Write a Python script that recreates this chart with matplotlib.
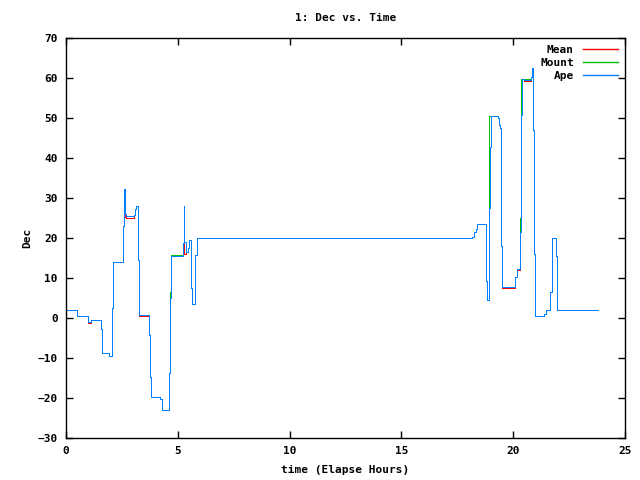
import matplotlib
matplotlib.use('Agg')
import matplotlib.pyplot as plt
import numpy as np

# Время (часы) и склонение для трёх рядов
hours = [0, 0.48, 1.0, 1.12, 1.55, 1.6, 1.62, 1.94, 2.07, 2.1, 2.56, 2.61, 2.64, 2.66,
         2.7, 3.05, 3.09, 3.12, 3.24, 3.26, 3.73, 3.76, 3.8, 4.2, 4.28, 4.62, 4.64,
         4.68, 5.22, 5.26, 5.29, 5.35, 5.47, 5.52, 5.58, 5.62, 5.77, 5.87, 18.17,
         18.25, 18.32, 18.4, 18.77, 18.8, 18.84, 18.93, 18.97, 19.0, 19.33, 19.37,
         19.4, 19.44, 19.47, 19.52, 20.08, 20.16, 20.3, 20.33, 20.37, 20.4, 20.5,
         20.8, 20.86, 20.9, 20.93, 20.99, 21.38, 21.47, 21.65, 21.72, 21.75, 21.9,
         21.94, 21.97, 23.8]

ape_dec = [2, 0.5, -1.0, -0.5, -2.7, -6.7, -8.7, -9.5, 2.5, 14, 23, 32.2, 30.5, 26,
           25.5, 25.8, 27.2, 28, 14.5, 0.8, -4.2, -14.7, -19.8, -20.2, -23, -13.7, 5,
           15.5, 18.7, 28, 19, 16.5, 17.5, 19.5, 7.5, 3.5, 15.7, 20, 20.3,
           21.6, 22.2, 23.5, 18.7, 9.3, 4.5, 27.5, 42.8, 50.5, 50, 48.2,
           47.4, 38.2, 18, 7.8, 10.2, 12.2, 21.6, 38.8, 50.7, 59.7, 59.5,
           60.2, 62.4, 47, 16, 0.6, 1, 2, 6.6, 15.5, 20, 15.5,
           6.5, 2, 2]

mean_dec = [2, 0.4, -1.3, -0.6, -2.7, -6.7, -8.7, -9.5, 2.5, 14, 23, 32.2, 30.5, 25.2,
            25.1, 25.8, 27.2, 28, 14.5, 0.6, -4.2, -14.7, -19.8, -20.2, -23, -13.7, 5,
            15.5, 18.7, 28, 16.0, 16.5, 17.5, 19.5, 7.5, 3.5, 15.7, 20, 20.3,
            21.6, 22.2, 23.5, 18.7, 9.3, 4.5, 27.5, 42.8, 50.5, 50, 48.2,
            47.4, 18.0, 18, 7.6, 10.2, 12.0, 21.6, 38.8, 50.7, 59.7, 59.3,
            60.2, 62.4, 47, 16, 0.6, 1, 2, 6.6, 15.5, 20, 15.5,
            6.5, 2, 2]

mount_dec = [2, 0.5, -1.0, -0.5, -2.7, -6.7, -8.7, -9.5, 2.5, 14, 23, 32.2, 30.5, 26,
             25.5, 25.8, 27.2, 28, 14.5, 0.8, -4.2, -14.7, -19.8, -20.2, -23, -13.7, 6.5,
             15.8, 18.7, 28, 19, 16.5, 17.5, 19.5, 7.5, 3.5, 15.7, 20, 20.3,
             21.6, 22.2, 23.5, 18.7, 9.3, 4.5, 50.5, 50.5, 50.5, 50, 48.2,
             47.4, 38.2, 18, 7.8, 10.2, 12.2, 25.0, 59.7, 59.7, 59.7, 59.7,
             60.2, 62.4, 47, 16, 0.6, 1, 2, 6.6, 15.5, 20, 15.5,
             6.5, 2, 2]

plt.rcParams['font.family'] = ['DejaVu Sans Mono']
plt.rcParams['font.weight'] = 'bold'
plt.rcParams['font.size'] = 8

fig = plt.figure(figsize=(6.4, 4.8), dpi=100)
ax = fig.add_axes([66 / 640, 42 / 480, (625 - 66) / 640, (438 - 38) / 480])

lw = 0.72  # 1 пиксель
ax.plot(hours, mean_dec, drawstyle='steps-post', color='#ff0000', linewidth=lw,
        antialiased=False, label='Mean')
ax.plot(hours, mount_dec, drawstyle='steps-post', color='#00c000', linewidth=lw,
        antialiased=False, label='Mount')
ax.plot(hours, ape_dec, drawstyle='steps-post', color='#0080ff', linewidth=lw,
        antialiased=False, label='Ape')

ax.set_xlim(0, 25)
ax.set_ylim(-30, 70)
ax.set_xticks(np.arange(0, 26, 5))
ax.set_yticks(np.arange(-30, 71, 10))
ax.tick_params(direction='in', length=5, width=1, top=True, right=True, pad=6)
for s in ax.spines.values():
    s.set_linewidth(1)

ax.set_title('1: Dec vs. Time', fontsize=8, fontweight='bold', pad=12)
ax.set_xlabel('time (Elapse Hours)', fontweight='bold', labelpad=6)
ax.set_ylabel('Dec', fontweight='bold', labelpad=4)

leg = ax.legend(loc='upper right', frameon=False, markerfirst=False, handlelength=3.2,
                labelspacing=0.3, borderaxespad=0.2, handletextpad=0.8)
for h in leg.legend_handles:
    h.set_linewidth(1.0)
    h.set_antialiased(True)

plt.savefig('out.png', dpi=100)
